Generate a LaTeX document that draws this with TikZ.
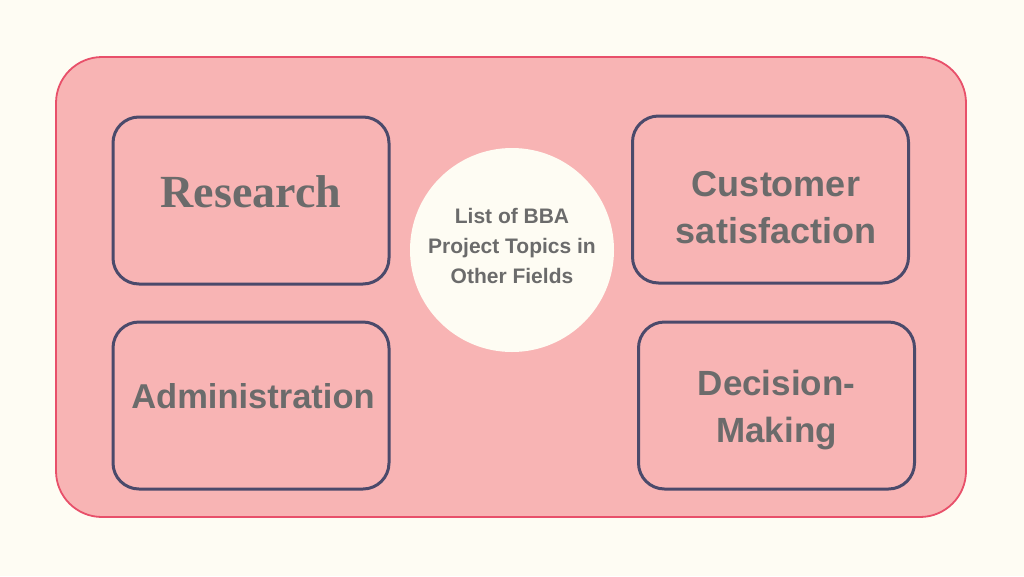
\documentclass[tikz,border=0pt]{standalone}
\usepackage{fontspec}
\setmainfont{Liberation Sans}
\newfontfamily\serifbold{Liberation Serif}
\usepackage{xcolor}
\definecolor{cream}{HTML}{FEFCF3}
\definecolor{panel}{HTML}{F8B4B4}
\definecolor{panelrim}{HTML}{E8506A}
\definecolor{boxrim}{HTML}{4B4A6B}
\definecolor{txt}{HTML}{6B6B6B}
\tikzset{
  topicbox/.style={draw=boxrim,line width=3pt,rounded corners=26pt,minimum width=276pt,minimum height=167pt,inner sep=0pt},
  topic/.style={text=txt,font=\bfseries\fontsize{35}{47}\selectfont,align=center,inner sep=0pt},
  hub/.style={circle,fill=cream,minimum size=204pt,inner sep=0pt},
  hubtext/.style={text=txt,font=\bfseries\fontsize{21}{30}\selectfont,align=center,inner sep=0pt}
}
\begin{document}
\begin{tikzpicture}[x=1pt,y=-1pt]
\fill[cream] (0,0) rectangle (1024,576);
\useasboundingbox (0,0) rectangle (1024,576);
\draw[panelrim,fill=panel,line width=1.8pt,rounded corners=46pt] (56,57) rectangle (966,517);
% centre circle
\node[hub] (hub) at (512,250) {};
\node[hubtext] (hublabel) at (512,246) {List of BBA\\Project Topics in\\Other Fields};
% four boxes
\node[topicbox] (research) at (251,200.5) {};
\node[topicbox] (customer) at (770.5,199.5) {};
\node[topicbox] (admin) at (251,405.5) {};
\node[topicbox] (decision) at (776.5,405.5) {};
\node[topic,font=\serifbold\bfseries\fontsize{46}{50}\selectfont] (researchlabel) at (251,192) {Research};
\node[topic,font=\bfseries\fontsize{36}{47}\selectfont] (customerlabel) at (776,208) {Customer\\satisfaction};
\node[topic,font=\bfseries\fontsize{34.5}{47}\selectfont] (adminlabel) at (253,396) {Administration};
\node[topic] (decisionlabel) at (776.5,410) {Decision-\\Making};
\end{tikzpicture}
\end{document}
